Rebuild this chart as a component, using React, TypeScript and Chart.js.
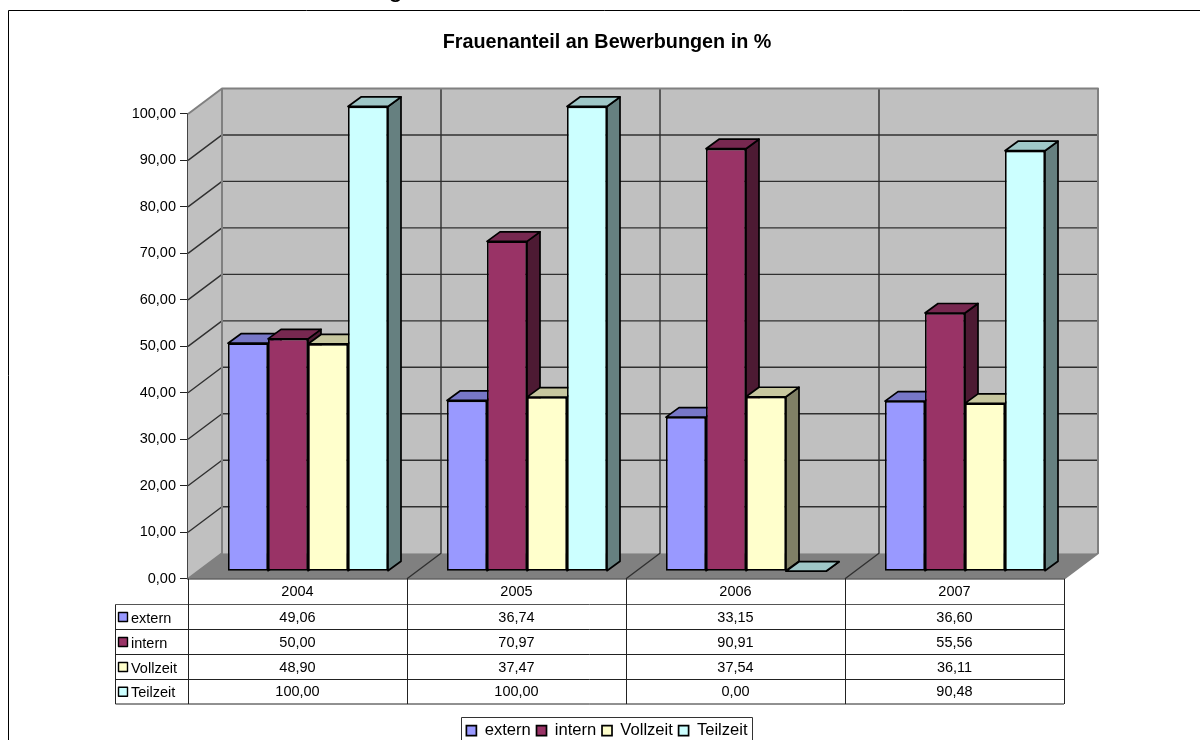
import React, { useEffect, useRef } from "react";
import { Chart, registerables } from "chart.js";

Chart.register(...registerables);

const years = ["2004", "2005", "2006", "2007"];
const extern = [49.06, 36.74, 33.15, 36.6];
const intern = [50.0, 70.97, 90.91, 55.56];
const vollzeit = [48.9, 37.47, 37.54, 36.11];
const teilzeit = [100.0, 100.0, 0.0, 90.48];
const seriesNames = ["extern", "intern", "Vollzeit", "Teilzeit"];
const seriesValues = [extern, intern, vollzeit, teilzeit];
const seriesColors = ["#9999FF", "#993366", "#FFFFCC", "#CCFFFF"];

const FONT = '"Liberation Sans", Arial, sans-serif';
const WALL_DX = 34;
const WALL_DY = -25.5;
const BAR_DX = 13;
const BAR_DY = -9.5;
const TABLE_ROWS = [604.5, 629.5, 654.5, 679.5, 704];
const TABLE_LEFT = 115.5;

const fmt = (v: number) => v.toFixed(2).replace(".", ",");

function shade(hex: string, f: number) {
  const n = parseInt(hex.slice(1), 16);
  const r = Math.round(((n >> 16) & 255) * f);
  const g = Math.round(((n >> 8) & 255) * f);
  const b = Math.round((n & 255) * f);
  return `rgb(${r},${g},${b})`;
}

function poly(ctx: CanvasRenderingContext2D, pts: number[][], fill: string | null, stroke: string | null, lw = 1) {
  ctx.beginPath();
  pts.forEach((p, i) => (i ? ctx.lineTo(p[0], p[1]) : ctx.moveTo(p[0], p[1])));
  if (fill) {
    ctx.closePath();
    ctx.fillStyle = fill;
    ctx.fill();
  }
  if (stroke) {
    ctx.strokeStyle = stroke;
    ctx.lineWidth = lw;
    ctx.lineJoin = "round";
    ctx.stroke();
  }
}

const framePlugin = {
  id: "frame",
  beforeDraw(chart: any) {
    const { ctx, width, height } = chart;
    ctx.save();
    ctx.fillStyle = "#fff";
    ctx.fillRect(0, 0, width, height);
    poly(ctx, [[8.5, height], [8.5, 10.5], [width, 10.5]], null, "#000", 1);
    ctx.fillStyle = "#000";
    ctx.font = `27px ${FONT}`;
    ctx.textAlign = "left";
    ctx.textBaseline = "alphabetic";
    ctx.fillText("g", 388, -4);
    ctx.restore();
  },
};

const wallsPlugin = {
  id: "walls3d",
  beforeDatasetsDraw(chart: any) {
    const { ctx, scales } = chart;
    const { x: xs, y: ys } = scales;
    const l = xs.left, r = xs.right;
    const t = ys.getPixelForValue(100), b = ys.getPixelForValue(0);
    const dx = WALL_DX, dy = WALL_DY;
    ctx.save();
    poly(ctx, [[l, t], [l + dx, t + dy], [r + dx, t + dy], [r + dx, b + dy], [l + dx, b + dy], [l, b]], "#C0C0C0", null);
    poly(ctx, [[l, b], [r, b], [r + dx, b + dy], [l + dx, b + dy]], "#808080", null);
    ys.ticks.forEach((tk: any) => {
      if (tk.value === 0 || tk.value === 100) return;
      const y = ys.getPixelForValue(tk.value);
      poly(ctx, [[l, y], [l + dx, y + dy], [r + dx, y + dy]], null, "#303030", 1.4);
    });
    const cw = (r - l) / years.length;
    for (let i = 1; i < years.length; i++) {
      const x = l + i * cw;
      poly(ctx, [[x, b], [x + dx, b + dy], [x + dx, t + dy]], null, "#303030", 1.4);
    }
    poly(ctx, [[l, t], [l + dx, t + dy], [r + dx, t + dy], [r + dx, b + dy], [r, b]], null, "#808080", 2);
    poly(ctx, [[l + dx, t + dy], [l + dx, b + dy], [l, b]], null, "#808080", 2);

    ctx.translate(10.5, -7.5);
    years.forEach((_, ci) => {
      chart.data.datasets.forEach((ds: any, di: number) => {
        const el = chart.getDatasetMeta(di).data[ci];
        const p = el.getProps(["x", "y", "base", "width"], true);
        const x0 = p.x - p.width / 2, x1 = p.x + p.width / 2;
        const c = ds.backgroundColor;
        const ddx = BAR_DX, ddy = BAR_DY;
        poly(ctx, [[x1, p.y], [x1 + ddx, p.y + ddy], [x1 + ddx, p.base + ddy], [x1, p.base]], shade(c, 0.5), "#000", 1.7);
        poly(ctx, [[x0, p.y], [x0 + ddx, p.y + ddy], [x1 + ddx, p.y + ddy], [x1, p.y]], shade(c, 0.78), "#000", 1.7);
        el.draw(ctx);
      });
    });
    ctx.restore();
    return false;
  },
};

const tablePlugin = {
  id: "dataTable",
  afterDraw(chart: any) {
    const { ctx, scales } = chart;
    const xs = scales.x;
    const top = scales.y.getPixelForValue(0);
    const rows = TABLE_ROWS;
    const cw = (xs.right - xs.left) / years.length;
    ctx.save();
    rows.forEach((y, i) => poly(ctx, [[TABLE_LEFT, y], [xs.right, y]], null, i === 0 ? "#555" : "#222", 1));
    poly(ctx, [[TABLE_LEFT, rows[0]], [TABLE_LEFT, rows[rows.length - 1]]], null, "#222", 1);
    for (let i = 0; i <= years.length; i++) {
      const x = Math.round(xs.left + i * cw) + 0.5;
      poly(ctx, [[x, top], [x, rows[rows.length - 1]]], null, "#222", 1);
    }
    ctx.font = `14.5px ${FONT}`;
    ctx.textBaseline = "middle";
    seriesNames.forEach((name, ri) => {
      const yc = (rows[ri] + rows[ri + 1]) / 2 + 0.5;
      ctx.fillStyle = seriesColors[ri];
      ctx.strokeStyle = "#000";
      ctx.lineWidth = 1.4;
      ctx.fillRect(118.5, yc - 5, 9, 9);
      ctx.strokeRect(118.5, yc - 5, 9, 9);
      ctx.fillStyle = "#000";
      ctx.textAlign = "left";
      ctx.fillText(name, 131, yc + 1);
      ctx.textAlign = "center";
      seriesValues[ri].forEach((v, ci) => {
        ctx.fillText(fmt(v), xs.getPixelForValue(ci), yc);
      });
    });
    const lg = chart.legend;
    if (lg && lg.legendHitBoxes && lg.legendHitBoxes.length) {
      const hb = lg.legendHitBoxes;
      const x0 = Math.round(hb[0].left - 5) + 0.5;
      const last = hb[hb.length - 1];
      const x1 = Math.round(last.left + last.width + 4) + 0.5;
      poly(ctx, [[x0, chart.height], [x0, 717.5], [x1, 717.5], [x1, chart.height]], null, "#333", 1);
    }
    ctx.restore();
  },
};

export default function App() {
  const ref = useRef<HTMLCanvasElement | null>(null);
  useEffect(() => {
    const chart = new Chart(ref.current as HTMLCanvasElement, {
      type: "bar",
      data: {
        labels: years,
        datasets: seriesNames.map((name, i) => ({
          label: name,
          data: seriesValues[i],
          backgroundColor: seriesColors[i],
          borderColor: "#000",
          borderWidth: 1.7,
          borderSkipped: false,
          categoryPercentage: 160 / 219,
          barPercentage: 1,
        })),
      },
      options: {
        responsive: false,
        animation: false,
        layout: { padding: { left: 14, right: 0, top: 0, bottom: -9 } },
        plugins: {
          tooltip: { enabled: false },
          title: {
            display: true,
            text: "Frauenanteil an Bewerbungen in %",
            color: "#000",
            font: { family: FONT, size: 19.8, weight: "bold", lineHeight: 1.2 },
            padding: { top: 30.6, bottom: 59.6 },
          },
          legend: {
            display: true,
            position: "bottom",
            labels: {
              boxWidth: 10,
              boxHeight: 10,
              padding: 5.7,
              color: "#000",
              font: { family: FONT, size: 16.6 },
            },
          },
        },
        scales: {
          x: {
            afterFit: (s: any) => { s.height = 138; },
            grid: { display: false, drawTicks: false },
            border: { display: true, color: "#222", width: 1.5 },
            ticks: { color: "#000", font: { family: FONT, size: 14.5 }, padding: 5 },
          },
          y: {
            min: 0,
            max: 100,
            afterFit: (s: any) => { s.width = 174; },
            grid: { drawOnChartArea: false, drawTicks: true, tickLength: 8, color: "#222" },
            border: { display: true, color: "#444", width: 2 },
            ticks: {
              stepSize: 10,
              color: "#000",
              padding: 4,
              font: { family: FONT, size: 14.5 },
              callback: (v: any) => fmt(Number(v)),
            },
          },
          yRight: {
            position: "right",
            min: 0,
            max: 1,
            afterFit: (s: any) => { s.width = 136; },
            grid: { display: false },
            border: { display: false },
            ticks: { display: false },
          },
        },
      } as any,
      plugins: [framePlugin, wallsPlugin, tablePlugin] as any,
    });
    return () => chart.destroy();
  }, []);
  return (
    <canvas
      ref={ref}
      width={1200}
      height={740}
      style={{ position: "absolute", left: 0, top: 0, width: 1200, height: 740, display: "block" }}
    />
  );
}
